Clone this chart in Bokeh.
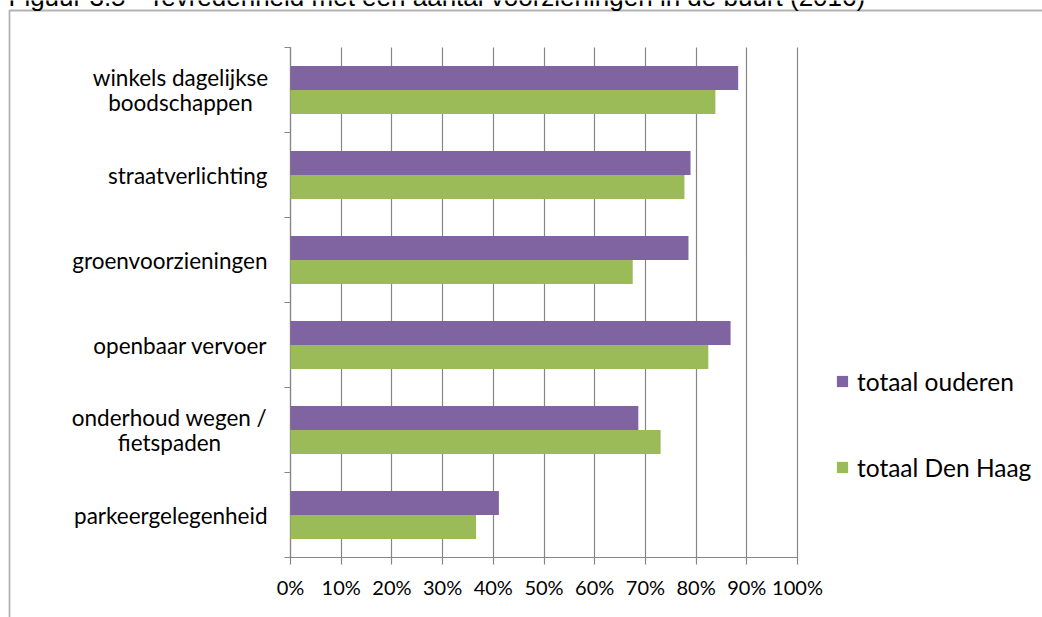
from bokeh.plotting import figure
from bokeh.models import Range1d, FixedTicker, Label, Legend, LegendItem, BoxAnnotation, ColumnDataSource
from bokeh.embed import file_html
from bokeh.resources import INLINE

# ---- data ----
categories = ["winkels dagelijkse\nboodschappen", "straatverlichting", "groenvoorzieningen",
              "openbaar vervoer", "onderhoud wegen /\nfietspaden", "parkeergelegenheid"]
ouderen = [88.3, 78.9, 78.5, 86.8, 68.6, 41.1]
den_haag = [83.8, 77.7, 67.5, 82.4, 73.0, 36.6]
series_names = ["totaal ouderen", "totaal Den Haag"]
x_ticks = [0, 10, 20, 30, 40, 50, 60, 70, 80, 90, 100]
x_tick_labels = ["0%", "10%", "20%", "30%", "40%", "50%", "60%", "70%", "80%", "90%", "100%"]
title_text = "Figuur 3.5 - Tevredenheid met een aantal voorzieningen in de buurt (2016)"

# ---- layout (page pixels) ----
W, H = 1042, 617
FL, FR, FT, FB = 290, 797, 47, 557
PURPLE, GREEN, GRID = "#8064A2", "#9BBB59", "#868686"
n = len(categories)
bar_h = 0.282

def dx(px):
    return (px - FL) / (FR - FL) * 100.0

def dy(py):
    return (FB - py) / (FB - FT) * n

p = figure(width=W, height=H, output_backend="svg", toolbar_location=None, title=None,
           x_range=Range1d(dx(0), dx(W)), y_range=Range1d(dy(H), dy(0)),
           min_border=0)
p.outline_line_color = None
p.background_fill_color = "white"
p.border_fill_color = "white"
p.xgrid.visible = False
p.ygrid.visible = False

centers = [n - i - 0.5 for i in range(n)]
src = ColumnDataSource(dict(
    y1=[c + bar_h / 2 for c in centers],
    y2=[c - bar_h / 2 for c in centers],
    ouderen=ouderen, den_haag=den_haag))

r1 = p.hbar(y="y1", left=0, right="ouderen", height=bar_h, source=src,
            fill_color=PURPLE, line_color=None, level="overlay")
r2 = p.hbar(y="y2", left=0, right="den_haag", height=bar_h, source=src,
            fill_color=GREEN, line_color=None, level="overlay")

# x axis drawn at y=0; its long inward ticks form the vertical gridlines
xa = p.xaxis[0]
xa.fixed_location = 0
xa.bounds = (0, 100)
xa.ticker = FixedTicker(ticks=x_ticks)
xa.major_label_overrides = {t: l for t, l in zip(x_ticks, x_tick_labels)}
xa.axis_line_color = GRID
xa.axis_line_width = 1.2
xa.major_tick_line_color = GRID
xa.major_tick_line_width = 1.2
xa.major_tick_in = FB - FT
xa.major_tick_out = 7
xa.minor_tick_line_color = None
xa.major_label_text_font = "Lato"
xa.major_label_text_font_size = "20px"
xa.major_label_text_color = "black"
xa.major_label_standoff = 10
xa.level = "underlay"

# y axis at x=0, ticks at category boundaries
ya = p.yaxis[0]
ya.fixed_location = 0
ya.bounds = (0, n)
ya.ticker = FixedTicker(ticks=list(range(n + 1)))
ya.major_label_overrides = {t: "" for t in range(n + 1)}
ya.axis_line_color = GRID
ya.axis_line_width = 1.2
ya.major_tick_line_color = GRID
ya.major_tick_line_width = 1.2
ya.major_tick_in = 0
ya.major_tick_out = 6
ya.minor_tick_line_color = None

# category labels
line_h = 0.3
label_right = 267
multi_center = {0: 180, 4: 169}
for i, cat in enumerate(categories):
    lines = cat.split("\n")
    k = len(lines)
    for j, ln in enumerate(lines):
        yy = centers[i] + (k - 1) / 2 * line_h - j * line_h
        if k == 1:
            lab = Label(x=dx(label_right), y=yy, text=ln, text_align="right",
                        text_baseline="middle")
        else:
            lab = Label(x=dx(multi_center[i]), y=yy, text=ln, text_align="center",
                        text_baseline="middle")
        lab.text_font = "Lato"
        lab.text_font_size = "22.5px"
        lab.text_color = "black"
        p.add_layout(lab)

# legend
legend = Legend(items=[LegendItem(label=series_names[0], renderers=[r1]),
                       LegendItem(label=series_names[1], renderers=[r2])],
                location=(835, H - 482))
legend.border_line_color = None
legend.background_fill_alpha = 0
legend.padding = 0
legend.margin = 0
legend.spacing = 56
legend.glyph_width = 14
legend.glyph_height = 14
legend.label_standoff = 8
legend.label_height = 30
legend.label_text_font = "Lato"
legend.label_text_font_size = "24.5px"
legend.label_text_color = "black"
p.add_layout(legend, "center")

# frame border around the chart
border = BoxAnnotation(left=dx(9), right=dx(1200), top=dy(10), bottom=dy(800),
                       fill_alpha=0, line_color="black", line_width=1.8)
p.add_layout(border)

# title (cut off at the top, as in the source)
title = Label(x=dx(8), y=dy(-4), text=title_text, text_align="left",
              text_baseline="middle")
title.text_font = "Liberation Sans"
title.text_font_size = "26px"
title.text_color = "black"
p.add_layout(title)

open("out.html", "w").write(file_html(p, INLINE))
